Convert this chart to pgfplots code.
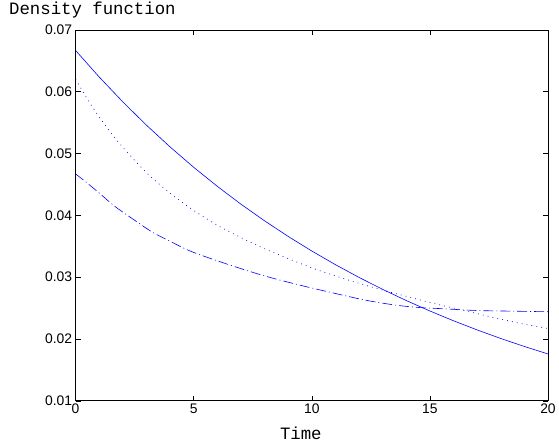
\documentclass[border=0pt]{standalone}
\usepackage{pgfplots}
\pgfplotsset{compat=1.18}
\usepackage{fontspec}
\setmainfont{Liberation Sans}
\newfontfamily\courier{Liberation Mono}

\begin{document}
\begin{tikzpicture}
\begin{axis}[
  name=ax,
  scale only axis,
  width=475bp, height=373bp,
  xmin=0, xmax=20, ymin=0.01, ymax=0.07,
  xtick={0,5,10,15,20},
  ytick={0.01,0.02,0.03,0.04,0.05,0.06,0.07},
  scaled y ticks=false,
  yticklabel style={/pgf/number format/.cd, fixed, fixed zerofill, precision=2},
  /pgf/number format/assume math mode=true,
  ticklabel style={font=\fontsize{14}{16}\selectfont},
  tick align=inside,
  major tick length=5bp,
  tick style={black, line width=0.5bp},
  axis line style={black, line width=0.6bp},
  xlabel={\courier\fontsize{17.5}{20}\selectfont Time},
  xlabel style={at={(rel axis cs:0.5,0)}, anchor=base, yshift=-39bp, xshift=-11bp},
]
% solid
\addplot[blue, line width=0.6bp] coordinates {
(0,0.066667) (1,0.062367) (2,0.058345) (3,0.054582) (4,0.051062)
(5,0.047769) (6,0.044688) (7,0.041806) (8,0.039110) (9,0.036587)
(10,0.034228) (11,0.032021) (12,0.029955) (13,0.028023) (14,0.026216)
(15,0.024525) (16,0.022943) (17,0.021464) (18,0.020079) (19,0.018785)
(20,0.017573)};
% dotted
\addplot[blue, line width=0.7bp, smooth, dash pattern=on 0.8bp off 4.2bp] coordinates {
(0,0.0620) (0.5,0.0588) (1,0.0559) (1.5,0.0533) (2,0.0510) (3,0.0469)
(4,0.0436) (5,0.0408) (6,0.0384) (7,0.0364) (8,0.0346) (9,0.0330)
(10,0.0315) (11,0.0302) (12,0.0290) (13,0.0279) (14,0.0269) (15,0.0259)
(16,0.0250) (17,0.0241) (18,0.0232) (19,0.0224) (20,0.0217)};
% dash-dot
\addplot[blue, line width=0.6bp, smooth, dash pattern=on 10bp off 3bp on 1bp off 3bp] coordinates {
(0,0.0467) (0.5,0.0452) (1,0.0436) (1.68,0.0414) (2.5,0.0392) (3.24,0.0373)
(4,0.0358) (4.93,0.0341) (6.5,0.0320) (8,0.0302) (9.5,0.0287) (10.84,0.0275)
(12.24,0.0263) (13.5,0.0255) (14.5,0.0251) (15.5,0.0249) (17,0.0246)
(18.5,0.0245) (20,0.0244)};
\end{axis}
\node[anchor=base west, inner sep=0pt, font=\courier\fontsize{17.5}{20}\selectfont]
  at ([xshift=-67bp, yshift=15bp]ax.north west) {Density function};
\path ([xshift=-76bp, yshift=-47bp]ax.south west) ([xshift=8bp, yshift=30bp]ax.north east);
\end{tikzpicture}
\end{document}
